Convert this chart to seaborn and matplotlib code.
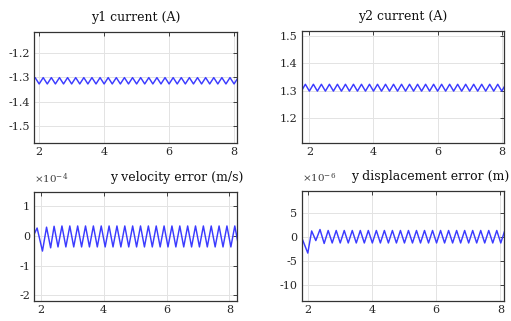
import matplotlib
matplotlib.use('Agg')
import matplotlib.pyplot as plt
import seaborn as sns

# time of each extreme of the current ripple (s)
t_cur = [1.75, 1.875, 2.0, 2.125, 2.25, 2.375, 2.5, 2.625, 2.75, 2.875,
         3.0, 3.125, 3.25, 3.375, 3.5, 3.625, 3.75, 3.875,
         4.0, 4.125, 4.25, 4.375, 4.5, 4.625, 4.75, 4.875,
         5.0, 5.125, 5.25, 5.375, 5.5, 5.625, 5.75, 5.875,
         6.0, 6.125, 6.25, 6.375, 6.5, 6.625, 6.75, 6.875,
         7.0, 7.125, 7.25, 7.375, 7.5, 7.625, 7.75, 7.875,
         8.0, 8.125, 8.25]

y1_cur = [-1.328, -1.302, -1.328, -1.302, -1.328, -1.302, -1.328, -1.302, -1.328, -1.302,
          -1.328, -1.302, -1.328, -1.302, -1.328, -1.302, -1.328, -1.302,
          -1.328, -1.302, -1.328, -1.302, -1.328, -1.302, -1.328, -1.302,
          -1.328, -1.302, -1.328, -1.302, -1.328, -1.302, -1.328, -1.302,
          -1.328, -1.302, -1.328, -1.302, -1.328, -1.302, -1.328, -1.302,
          -1.328, -1.302, -1.328, -1.302, -1.328, -1.302, -1.328, -1.302,
          -1.328, -1.302, -1.328]

y2_cur = [1.299, 1.324, 1.299, 1.324, 1.299, 1.324, 1.299, 1.324, 1.299, 1.324,
          1.299, 1.324, 1.299, 1.324, 1.299, 1.324, 1.299, 1.324,
          1.299, 1.324, 1.299, 1.324, 1.299, 1.324, 1.299, 1.324,
          1.299, 1.324, 1.299, 1.324, 1.299, 1.324, 1.299, 1.324,
          1.299, 1.324, 1.299, 1.324, 1.299, 1.324, 1.299, 1.324,
          1.299, 1.324, 1.299, 1.324, 1.299, 1.324, 1.299, 1.324,
          1.299, 1.324, 1.299]

# velocity error, in units of 1e-4 m/s
t_vel = [1.78, 1.88, 2.05, 2.18, 2.31, 2.42,
         2.545, 2.67, 2.795, 2.92, 3.045, 3.17, 3.295, 3.42,
         3.545, 3.67, 3.795, 3.92, 4.045, 4.17, 4.295, 4.42,
         4.545, 4.67, 4.795, 4.92, 5.045, 5.17, 5.295, 5.42,
         5.545, 5.67, 5.795, 5.92, 6.045, 6.17, 6.295, 6.42,
         6.545, 6.67, 6.795, 6.92, 7.045, 7.17, 7.295, 7.42,
         7.545, 7.67, 7.795, 7.92, 8.045, 8.17, 8.295]
vel_err = [0.05, 0.27, -0.51, 0.30, -0.40, 0.33,
           -0.37, 0.34, -0.37, 0.34, -0.37, 0.34, -0.37, 0.34,
           -0.37, 0.34, -0.37, 0.34, -0.37, 0.34, -0.37, 0.34,
           -0.37, 0.34, -0.37, 0.34, -0.37, 0.34, -0.37, 0.34,
           -0.37, 0.34, -0.37, 0.34, -0.37, 0.34, -0.37, 0.34,
           -0.37, 0.34, -0.37, 0.34, -0.37, 0.34, -0.37, 0.34,
           -0.37, 0.34, -0.37, 0.34, -0.37, 0.34, -0.37]

# displacement error, in units of 1e-6 m
t_disp = [1.80, 2.00, 2.12, 2.25, 2.38, 2.51,
          2.635, 2.76, 2.885, 3.01, 3.135, 3.26, 3.385, 3.51,
          3.635, 3.76, 3.885, 4.01, 4.135, 4.26, 4.385, 4.51,
          4.635, 4.76, 4.885, 5.01, 5.135, 5.26, 5.385, 5.51,
          5.635, 5.76, 5.885, 6.01, 6.135, 6.26, 6.385, 6.51,
          6.635, 6.76, 6.885, 7.01, 7.135, 7.26, 7.385, 7.51,
          7.635, 7.76, 7.885, 8.01, 8.135, 8.26]
disp_err = [0.0, -3.4, 1.2, -0.8, 1.5, -1.4,
            1.3, -1.3, 1.3, -1.3, 1.3, -1.3, 1.3, -1.3,
            1.3, -1.3, 1.3, -1.3, 1.3, -1.3, 1.3, -1.3,
            1.3, -1.3, 1.3, -1.3, 1.3, -1.3, 1.3, -1.3,
            1.3, -1.3, 1.3, -1.3, 1.3, -1.3, 1.3, -1.3,
            1.3, -1.3, 1.3, -1.3, 1.3, -1.3, 1.3, -1.3,
            1.3, -1.3, 1.3, -1.3, 1.3, -1.3]

x_ticks = [2, 4, 6, 8]

sns.set_style('whitegrid')
plt.rcParams['font.family'] = ['DejaVu Serif']
plt.rcParams['mathtext.fontset'] = 'dejavuserif'

fig = plt.figure(figsize=(5.11, 3.21), dpi=100)

panels = [
    # rect, x, y, xlim, ylim, yticks, title, title x, exponent
    ([0.0671, 0.5536, 0.3973, 0.3477], t_cur, y1_cur, (1.85, 8.1), (-1.571, -1.114),
     [-1.5, -1.4, -1.3, -1.2], 'y1 current (A)', 0.5, None),
    ([0.5910, 0.5536, 0.3959, 0.3498], t_cur, y2_cur, (1.77, 8.08), (1.109, 1.518),
     [1.2, 1.3, 1.4, 1.5], 'y2 current (A)', 0.5, None),
    ([0.0671, 0.0632, 0.3973, 0.3396], t_vel, vel_err, (1.79, 8.25), (-2.19, 1.5),
     [-2, -1, 0, 1], 'y velocity error (m/s)', 0.70, r'$\times10^{-4}$'),
    ([0.5904, 0.0632, 0.3965, 0.3417], t_disp, disp_err, (1.81, 8.12), (-13.3, 9.5),
     [-10, -5, 0, 5], 'y displacement error (m)', 0.635, r'$\times10^{-6}$'),
]

for rect, xs, ys, xlim, ylim, yticks, title, tx, expo in panels:
    ax = fig.add_axes(rect)
    sns.lineplot(x=xs, y=ys, ax=ax, color='#3b3bff', linewidth=1.05)
    ax.set_xlim(*xlim)
    ax.set_ylim(*ylim)
    ax.set_xticks(x_ticks)
    ax.set_yticks(yticks)
    ax.set_xticklabels([str(v) for v in x_ticks])
    ax.set_yticklabels([f'{v:g}' for v in yticks])
    ax.grid(True, color='#e3e3e3', linewidth=0.7)
    ax.tick_params(direction='in', length=3, width=0.6, labelsize=8,
                   colors='#262626', top=True, right=True, pad=3)
    for s in ax.spines.values():
        s.set_color('#333333')
        s.set_linewidth(0.9)
    ax.text(tx, 1.1, title, transform=ax.transAxes, ha='center', va='baseline',
            fontsize=9, color='#111111')
    if expo:
        ax.text(0.0, 1.08, expo, transform=ax.transAxes, ha='left', va='baseline',
                fontsize=7.5, color='#404040')

fig.savefig('out.png', dpi=100)
